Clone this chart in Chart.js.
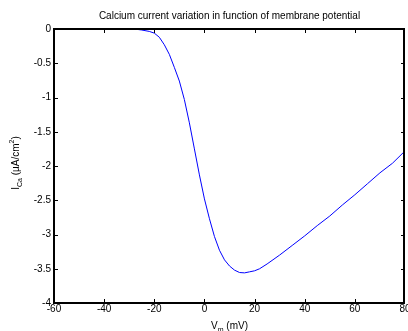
<!DOCTYPE html>
<html><head><meta charset="utf-8">
<script src="https://cdn.jsdelivr.net/npm/chart.js@4.4.1/dist/chart.umd.min.js"></script>
<style>html,body{margin:0;padding:0;background:#fff;overflow:hidden;}#wrap{width:408px;height:331px;}canvas{display:block;}</style>
</head><body><div id="wrap"><canvas id="c" width="408" height="331"></canvas></div>
<script>
const voltage = [-60,-50,-40,-30,-27,-25,-22,-20,-18,-16,-14,-12,-10,-8,-6,-4,-2,0,2,4,6,8,10,12,14,16,18,20,22,25,30,35,40,45,50,55,60,65,70,75,80];
const current = [0,0,0,0,-0.005,-0.015,-0.035,-0.06,-0.12,-0.23,-0.37,-0.56,-0.76,-1.03,-1.37,-1.75,-2.13,-2.48,-2.77,-3.03,-3.23,-3.37,-3.46,-3.52,-3.555,-3.56,-3.545,-3.53,-3.50,-3.43,-3.30,-3.16,-3.02,-2.87,-2.73,-2.57,-2.42,-2.26,-2.10,-1.96,-1.78];
const xTicks = [-60,-40,-20,0,20,40,60,80];
const yTicks = [0,-0.5,-1,-1.5,-2,-2.5,-3,-3.5,-4];
const titleText = 'Calcium current variation in function of membrane potential';

const FONT = 'Liberation Sans, Arial, sans-serif';
const points = voltage.map((v,i)=>({x:v,y:current[i]}));

function drawBox(chart){
  const ctx = chart.ctx, a = chart.chartArea, xs = chart.scales.x, ys = chart.scales.y;
  ctx.save();
  const L=Math.round(a.left), R=Math.round(a.right), T=Math.round(a.top), B=Math.round(a.bottom);
  ctx.fillStyle='#000';
  ctx.fillRect(L-1,T-1,R-L+1,2);      // top
  ctx.fillRect(L-1,B-1,R-L+1,2);      // bottom
  ctx.fillRect(L-1,T-1,2,B-T+1);      // left
  ctx.fillRect(R-2,T-1,2,B-T+1);      // right
  const tl=4;
  xTicks.forEach(v=>{const px=Math.min(Math.max(Math.round(xs.getPixelForValue(v)),L),R-1); ctx.fillRect(px,B-tl,1,tl); ctx.fillRect(px,T,1,tl);});
  yTicks.forEach(v=>{const py=Math.min(Math.max(Math.round(ys.getPixelForValue(v)),T),B-1); ctx.fillRect(L,py,tl,1); ctx.fillRect(R-tl,py,tl,1);});
  ctx.restore();
}

const deco = {
  id:'deco',
  afterDatasetsDraw(chart){ drawBox(chart); },
  afterDraw(chart){
    drawBox(chart);
    const ctx = chart.ctx, a = chart.chartArea;
    ctx.save();
    ctx.fillStyle='#000';
    ctx.font='10px '+FONT; ctx.textAlign='center'; ctx.textBaseline='middle';
    ctx.fillText(titleText,(a.left+a.right)/2,16);
    const cx=(a.left+a.right)/2, ly=326;
    const wV=ctx.measureText('V').width; ctx.font='7px '+FONT; const wm=ctx.measureText('m').width;
    ctx.font='10px '+FONT; const wr=ctx.measureText(' (mV)').width;
    let sx=cx-(wV+wm+wr)/2;
    ctx.textAlign='left';
    ctx.fillText('V',sx,ly); sx+=wV;
    ctx.font='7px '+FONT; ctx.fillText('m',sx,ly+4); sx+=wm;
    ctx.font='10px '+FONT; ctx.fillText(' (mV)',sx,ly);
    ctx.translate(16,163); ctx.rotate(-Math.PI/2);
    ctx.font='10px '+FONT; const wI=ctx.measureText('I').width;
    ctx.font='7px '+FONT; const wCa=ctx.measureText('Ca').width;
    ctx.font='10px '+FONT; const w1=ctx.measureText(' (µA/cm').width;
    ctx.font='7px '+FONT; const w2=ctx.measureText('2').width;
    ctx.font='10px '+FONT; const w3=ctx.measureText(')').width;
    let s=-(wI+wCa+w1+w2+w3)/2;
    ctx.font='10px '+FONT; ctx.fillText('I',s,0); s+=wI;
    ctx.font='7px '+FONT; ctx.fillText('Ca',s,4); s+=wCa;
    ctx.font='10px '+FONT; ctx.fillText(' (µA/cm',s,0); s+=w1;
    ctx.font='7px '+FONT; ctx.fillText('2',s,-4); s+=w2;
    ctx.font='10px '+FONT; ctx.fillText(')',s,0);
    ctx.restore();
  }
};

new Chart(document.getElementById('c'),{
  type:'line',
  data:{datasets:[{data:points,borderColor:'rgb(0,0,255)',borderWidth:1,pointRadius:0,tension:0,fill:false,clip:2}]},
  options:{
    responsive:false,animation:false,
    layout:{padding:{left:0,right:3,top:29,bottom:0}},
    plugins:{legend:{display:false},title:{display:false},tooltip:{enabled:false}},
    scales:{
      x:{type:'linear',min:-60,max:80,
        afterBuildTicks(s){s.ticks=xTicks.map(v=>({value:v}));},
        afterFit(s){s.height=28;s.paddingLeft=0;s.paddingRight=0;},
        grid:{display:false,drawTicks:false},border:{display:false},
        ticks:{color:'#000',font:{family:FONT,size:10},padding:0,maxRotation:0,autoSkip:false,callback:v=>String(v)}},
      y:{type:'linear',min:-4,max:0,
        afterBuildTicks(s){s.ticks=yTicks.map(v=>({value:v}));},
        afterFit(s){s.width=54;s.paddingTop=0;s.paddingBottom=0;},
        grid:{display:false,drawTicks:false},border:{display:false},
        ticks:{color:'#000',font:{family:FONT,size:10},padding:3,autoSkip:false,callback:v=>String(v)}}
    }
  },
  plugins:[deco]
});
</script></body></html>
